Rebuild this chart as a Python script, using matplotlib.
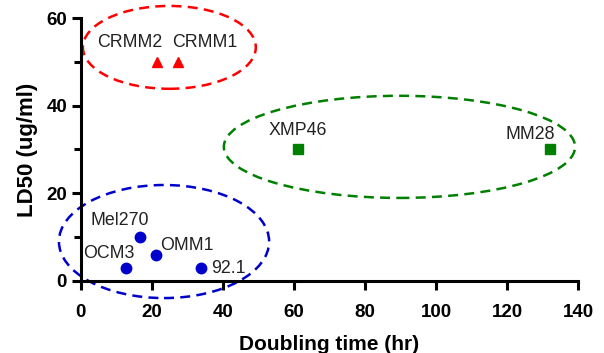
import matplotlib.pyplot as plt
from matplotlib.patches import Ellipse

plt.rcParams['font.family'] = ['Liberation Sans', 'DejaVu Sans']

# 数据
red_names = ['CRMM2', 'CRMM1']
red_x = [21.5, 27.3]
red_y = [50, 50]

green_names = ['XMP46', 'MM28']
green_x = [61, 132]
green_y = [30, 30]

blue_names = ['Mel270', 'OMM1', 'OCM3', '92.1']
blue_x = [16.6, 21.1, 12.7, 33.8]
blue_y = [10, 6, 3, 3]

# 标签偏移 (像素)
red_off = [(-28, 19), (27, 19)]
green_off = [(0, 19), (-19, 15)]
blue_off = [(-20, 17), (31, 9), (-17, 14), (27, -1)]

fig = plt.figure(figsize=(6.04, 3.53), dpi=100)
ax = fig.add_axes([0.134, 0.204, 0.823, 0.745])

ax.plot(red_x, red_y, '^', color='red', markersize=7.5, clip_on=False)
ax.plot(green_x, green_y, 's', color='green', markersize=7, clip_on=False)
ax.plot(blue_x, blue_y, 'o', color='#0000cc', markersize=7.5, clip_on=False)

def label(names, xs, ys, offs):
    for n, x, y, o in zip(names, xs, ys, offs):
        ax.annotate(n, (x, y), xytext=o, textcoords='offset pixels',
                    ha='center', va='center', fontsize=12.8, color='#222222')

label(red_names, red_x, red_y, red_off)
label(green_names, green_x, green_y, green_off)
label(blue_names, blue_x, blue_y, blue_off)

# 虚线椭圆
for c, w, h, col in [((24.9, 53.3), 48.7, 18.9, 'red'),
                     ((89.7, 30.6), 98.9, 23.3, 'green'),
                     ((23.4, 9.0), 59.2, 25.8, '#0000cc')]:
    ax.add_patch(Ellipse(c, w, h, fill=False, edgecolor=col, linewidth=1.8,
                         linestyle=(0, (4, 2.5)), clip_on=False))

ax.set_xlim(0, 140)
ax.set_ylim(0, 60)
ax.set_xticks(range(0, 141, 20))
ax.set_yticks(range(0, 61, 20))
ax.set_yticks([10, 30, 50], minor=True)

ax.spines['top'].set_visible(False)
ax.spines['right'].set_visible(False)
for s in ['left', 'bottom']:
    ax.spines[s].set_linewidth(2.2)

ax.tick_params(axis='both', which='major', width=2.2, length=6.5, labelsize=13.5)
ax.tick_params(axis='x', which='major', pad=10)
ax.tick_params(axis='y', which='minor', width=2.2, length=5)
for t in ax.get_xticklabels() + ax.get_yticklabels():
    t.set_fontweight('bold')

ax.set_xlabel('Doubling time (hr)', fontsize=15, fontweight='bold', labelpad=10)
ax.set_ylabel('LD50 (ug/ml)', fontsize=16, fontweight='bold', labelpad=6)

plt.savefig('out.png', dpi=100)
